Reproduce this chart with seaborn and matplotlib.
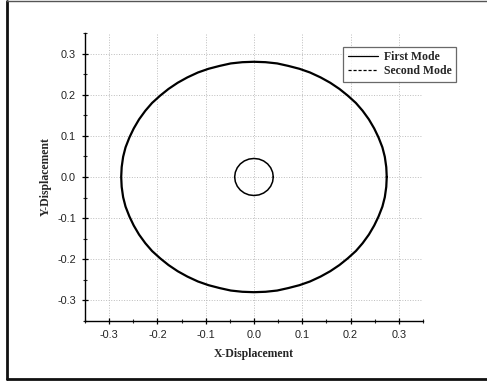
import matplotlib
matplotlib.use("Agg")
import matplotlib.pyplot as plt
import seaborn as sns
from matplotlib.lines import Line2D
from matplotlib.ticker import MultipleLocator

# Orbit of the first mode (outer curve)
first_x = [0.275, 0.274, 0.271, 0.266, 0.258, 0.249, 0.238, 0.225, 0.211, 0.194,
           0.177, 0.158, 0.138, 0.116, 0.094, 0.071, 0.048, 0.024, 0.000,
           -0.024, -0.048, -0.071, -0.094, -0.116, -0.138, -0.158, -0.177, -0.194,
           -0.211, -0.225, -0.238, -0.249, -0.258, -0.266, -0.271, -0.274, -0.275,
           -0.274, -0.271, -0.266, -0.258, -0.249, -0.238, -0.225, -0.211, -0.194,
           -0.177, -0.158, -0.138, -0.116, -0.094, -0.071, -0.048, -0.024, 0.000,
           0.024, 0.048, 0.071, 0.094, 0.116, 0.138, 0.158, 0.177, 0.194,
           0.211, 0.225, 0.238, 0.249, 0.258, 0.266, 0.271, 0.274, 0.275]
first_y = [0.000, 0.024, 0.049, 0.072, 0.096, 0.118, 0.140, 0.161, 0.180, 0.198,
           0.214, 0.229, 0.242, 0.254, 0.263, 0.270, 0.276, 0.279, 0.280,
           0.279, 0.276, 0.270, 0.263, 0.254, 0.242, 0.229, 0.214, 0.198,
           0.180, 0.161, 0.140, 0.118, 0.096, 0.072, 0.049, 0.024, 0.000,
           -0.024, -0.049, -0.072, -0.096, -0.118, -0.140, -0.161, -0.180, -0.198,
           -0.214, -0.229, -0.242, -0.254, -0.263, -0.270, -0.276, -0.279, -0.280,
           -0.279, -0.276, -0.270, -0.263, -0.254, -0.242, -0.229, -0.214, -0.198,
           -0.180, -0.161, -0.140, -0.118, -0.096, -0.072, -0.049, -0.024, 0.000]

# Orbit of the second mode (inner curve)
second_x = [0.040, 0.0386, 0.0346, 0.0283, 0.020, 0.0104, 0.0, -0.0104, -0.020, -0.0283,
            -0.0346, -0.0386, -0.040, -0.0386, -0.0346, -0.0283, -0.020, -0.0104, 0.0,
            0.0104, 0.020, 0.0283, 0.0346, 0.0386, 0.040]
second_y = [0.0, 0.0116, 0.0225, 0.0318, 0.039, 0.0435, 0.045, 0.0435, 0.039, 0.0318,
            0.0225, 0.0116, 0.0, -0.0116, -0.0225, -0.0318, -0.039, -0.0435, -0.045,
            -0.0435, -0.039, -0.0318, -0.0225, -0.0116, 0.0]

series_names = ["First Mode", "Second Mode"]
tick_values = [-0.3, -0.2, -0.1, 0.0, 0.1, 0.2, 0.3]
x_label = "X-Displacement"
y_label = "Y-Displacement"

sns.set_style("white")
plt.rcParams['font.family'] = ['Liberation Sans', 'DejaVu Sans']

fig = plt.figure(figsize=(4.87, 3.83), dpi=100)
ax = fig.add_axes([0.1745, 0.1619, 0.694, 0.752])

sns.lineplot(x=first_x, y=first_y, sort=False, estimator=None, ax=ax,
             color="black", linewidth=1.6)
sns.lineplot(x=second_x, y=second_y, sort=False, estimator=None, ax=ax,
             color="black", linewidth=1.1)

ax.set_xlim(-0.35, 0.35)
ax.set_ylim(-0.35, 0.35)
ax.set_xticks(tick_values)
ax.set_yticks(tick_values)
ax.set_xticklabels([f"{v:.1f}" for v in tick_values])
ax.set_yticklabels([f"{v:.1f}" for v in tick_values])
ax.xaxis.set_minor_locator(MultipleLocator(0.05))
ax.yaxis.set_minor_locator(MultipleLocator(0.05))
ax.tick_params(axis="both", which="major", direction="inout", length=5, width=0.9,
               labelsize=7.8, colors="black", pad=4)
ax.tick_params(axis="both", which="minor", direction="inout", length=3, width=0.8)
ax.tick_params(axis="x", bottom=True, which="both")
ax.tick_params(axis="y", left=True, which="both")
for lbl in ax.get_xticklabels() + ax.get_yticklabels():
    lbl.set_color("#222222")

ax.grid(True, which="major", linestyle=":", color="#bdbdbd", linewidth=0.7)
for side in ["top", "right"]:
    ax.spines[side].set_visible(False)
for side in ["left", "bottom"]:
    ax.spines[side].set_color("black")
    ax.spines[side].set_linewidth(1.0)

ax.set_xlabel(x_label, family="Liberation Serif", fontweight="bold", fontsize=8.5, labelpad=6)
ax.set_ylabel(y_label, family="Liberation Serif", fontweight="bold", fontsize=8.5, labelpad=4)

handles = [Line2D([], [], color="black", lw=0.9, linestyle="-"),
           Line2D([], [], color="black", lw=0.9, linestyle=(0, (2.5, 1.5)))]
leg = ax.legend(handles, series_names, loc="upper right",
                bbox_to_anchor=(456 / 487, (383 - 47) / 383), bbox_transform=fig.transFigure,
                prop={"family": "Liberation Serif", "weight": "bold", "size": 8.5},
                frameon=True, fancybox=False, handlelength=2.6, handletextpad=0.5,
                borderpad=0.35, labelspacing=0.2, borderaxespad=0)
leg.get_frame().set_edgecolor("#444444")
leg.get_frame().set_linewidth(0.9)

# outer picture frame
fig.add_artist(Line2D([6.5 / 487, 6.5 / 487], [(383 - 0.5) / 383, (383 - 378.5) / 383],
                      transform=fig.transFigure, color="#111111", lw=2.0))
fig.add_artist(Line2D([6.5 / 487, 1.0], [(383 - 378.5) / 383, (383 - 378.5) / 383],
                      transform=fig.transFigure, color="#111111", lw=2.0))
fig.add_artist(Line2D([6.5 / 487, 1.0], [(383 - 0.6) / 383, (383 - 0.6) / 383],
                      transform=fig.transFigure, color="#555555", lw=1.0))

fig.savefig("out.png", dpi=100)
